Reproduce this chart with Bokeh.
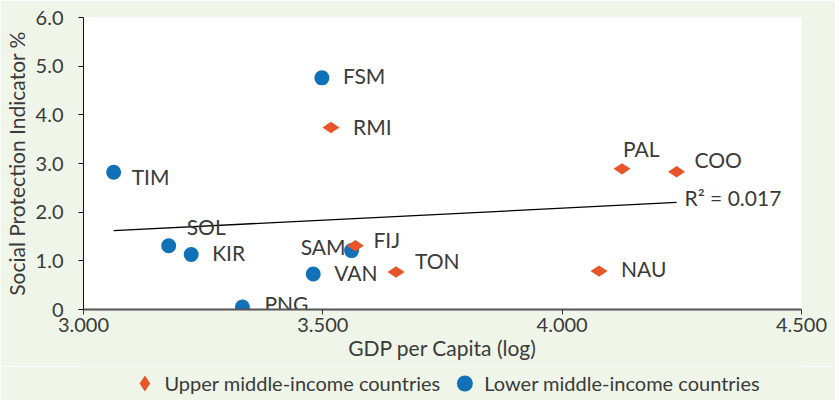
import math
from bokeh.plotting import figure
from bokeh.layouts import column
from bokeh.models import ColumnDataSource, Legend, LegendItem, Range1d
from bokeh.core.properties import value
from bokeh.embed import file_html
from bokeh.resources import INLINE

# ---------------- data ----------------
upper_countries = ["RMI", "PAL", "COO", "FIJ", "TON", "NAU"]
upper_gdp = [3.517, 4.125, 4.239, 3.568, 3.653, 4.077]
upper_spi = [3.74, 2.89, 2.83, 1.31, 0.77, 0.79]

lower_countries = ["FSM", "TIM", "SOL", "KIR", "SAM", "VAN", "PNG"]
lower_gdp = [3.498, 3.063, 3.178, 3.225, 3.560, 3.480, 3.332]
lower_spi = [4.76, 2.82, 1.31, 1.13, 1.21, 0.73, 0.05]

trend_slope = 0.493
trend_intercept = 0.110
r_squared_label = "R\u00b2 = 0.017"

x_ticks = [3.0, 3.5, 4.0, 4.5]
x_tick_labels = ["3.000", "3.500", "4.000", "4.500"]
y_ticks = [0, 1, 2, 3, 4, 5, 6]
y_tick_labels = ["0", "1.0", "2.0", "3.0", "4.0", "5.0", "6.0"]

x_title = "GDP per Capita (log)"
y_title = "Social Protection Indicator %"
upper_name = "Upper middle-income countries"
lower_name = "Lower middle-income countries"

# ---------------- styles ----------------
BG = "#EFF5E8"
BLUE = "#1071B8"
ORANGE = "#E8552A"
TXT = "#3A3A3A"
FONT = "Lato"
FS_TICK = "20px"
FS_TITLE = "21px"
FS_LABEL = "21px"
FS_LEGEND = "20px"

# label placement (screen px offsets from the point, alignment)
label_style = {
    "FSM": (21, -2, "left"), "RMI": (22, -1, "left"), "TIM": (18, 4, "left"),
    "SOL": (18, -19, "left"), "KIR": (21, -2, "left"), "PAL": (1, -20, "left"),
    "COO": (18, -12, "left"), "NAU": (22, -3, "left"), "SAM": (-6, -4, "right"),
    "FIJ": (18, -6, "left"), "VAN": (21, -1, "left"), "TON": (19, -12, "left"),
    "PNG": (22, -4, "left"),
}

p = figure(width=835, height=366, x_range=Range1d(3.0, 4.5), y_range=Range1d(0, 6),
           output_backend="svg", toolbar_location=None,
           min_border_left=82, min_border_right=34, min_border_top=17, min_border_bottom=57,
           background_fill_color="white", border_fill_color=BG, outline_line_color=None)
p.grid.visible = False

# axes
p.xaxis.ticker = x_ticks
p.xaxis.major_label_overrides = {t: l for t, l in zip(x_ticks, x_tick_labels)}
p.yaxis.ticker = y_ticks
p.yaxis.major_label_overrides = {t: l for t, l in zip(y_ticks, y_tick_labels)}
for ax in (p.xaxis[0], p.yaxis[0]):
    ax.major_tick_in = 0
    ax.major_tick_out = 5
    ax.minor_tick_line_color = None
    ax.major_label_text_font = FONT
    ax.major_label_text_font_size = FS_TICK
    ax.major_label_text_color = TXT
    ax.axis_label_text_font = FONT
    ax.axis_label_text_font_size = FS_TITLE
    ax.axis_label_text_font_style = "normal"
    ax.axis_label_text_color = TXT
p.xaxis.axis_label = x_title
p.yaxis.axis_label = y_title
p.xaxis.axis_line_color = "#555555"
p.xaxis.axis_line_width = 2
p.xaxis.major_tick_line_color = "#333333"
p.xaxis.major_label_standoff = 3
p.xaxis.axis_label_standoff = 0
p.yaxis.axis_line_color = "#111111"
p.yaxis.major_tick_line_color = "#111111"
p.yaxis.major_label_standoff = 15
p.yaxis.axis_label_standoff = 4

# trendline
all_gdp = upper_gdp + lower_gdp
tx = [min(all_gdp), max(all_gdp)]
ty = [trend_intercept + trend_slope * v for v in tx]
p.line(tx, ty, line_color="black", line_width=1.3)
p.text([tx[1]], [ty[1]], text=[r_squared_label], x_offset=8, y_offset=-5,
       text_font=value(FONT), text_font_size=FS_LABEL, text_color=TXT,
       text_baseline="middle", text_align="left")

# points
up_src = ColumnDataSource(dict(x=upper_gdp, y=upper_spi))
lo_src = ColumnDataSource(dict(x=lower_gdp, y=lower_spi))
p.scatter("x", "y", marker="circle", size=15, source=lo_src,
          fill_color=BLUE, line_color=None)
p.scatter("x", "y", marker="diamond", size=17, angle=math.pi / 2,
          source=up_src, fill_color=ORANGE, line_color=None)

# labels
names = upper_countries + lower_countries
lab_src = ColumnDataSource(dict(
    x=all_gdp, y=upper_spi + lower_spi, t=names,
    dx=[label_style[n][0] for n in names],
    dy=[label_style[n][1] for n in names],
    al=[label_style[n][2] for n in names],
))
p.text("x", "y", text="t", x_offset="dx", y_offset="dy", text_align="al",
       source=lab_src, text_font=value(FONT), text_font_size=FS_LABEL, text_color=TXT,
       text_baseline="middle")

# ---------------- legend strip (separate figure, same sources, data out of view) ----------------
lg = figure(width=835, height=34, x_range=Range1d(0, 1), y_range=Range1d(0, 1),
            output_backend="svg", toolbar_location=None,
            x_axis_location=None, y_axis_location=None,
            min_border_left=0, min_border_right=0, min_border_top=0, min_border_bottom=0,
            background_fill_color=BG, border_fill_color=BG, outline_line_color=None)
lg.grid.visible = False
up_leg = lg.scatter("x", "y", marker="diamond", size=17, source=up_src,
                    fill_color=ORANGE, line_color=None)
lo_leg = lg.scatter("x", "y", marker="circle", size=15, source=lo_src,
                    fill_color=BLUE, line_color=None)
legend = Legend(items=[LegendItem(label=upper_name, renderers=[up_leg]),
                       LegendItem(label=lower_name, renderers=[lo_leg])],
                orientation="horizontal", location="center",
                glyph_width=40, glyph_height=40, label_standoff=-4, spacing=4,
                padding=0, margin=0, background_fill_alpha=0, border_line_color=None,
                label_text_font=FONT, label_text_font_size=FS_LEGEND, label_text_color=TXT)
lg.add_layout(legend, "center")

layout = column(p, lg, spacing=0)
open("out.html", "w").write(file_html(layout, INLINE))
